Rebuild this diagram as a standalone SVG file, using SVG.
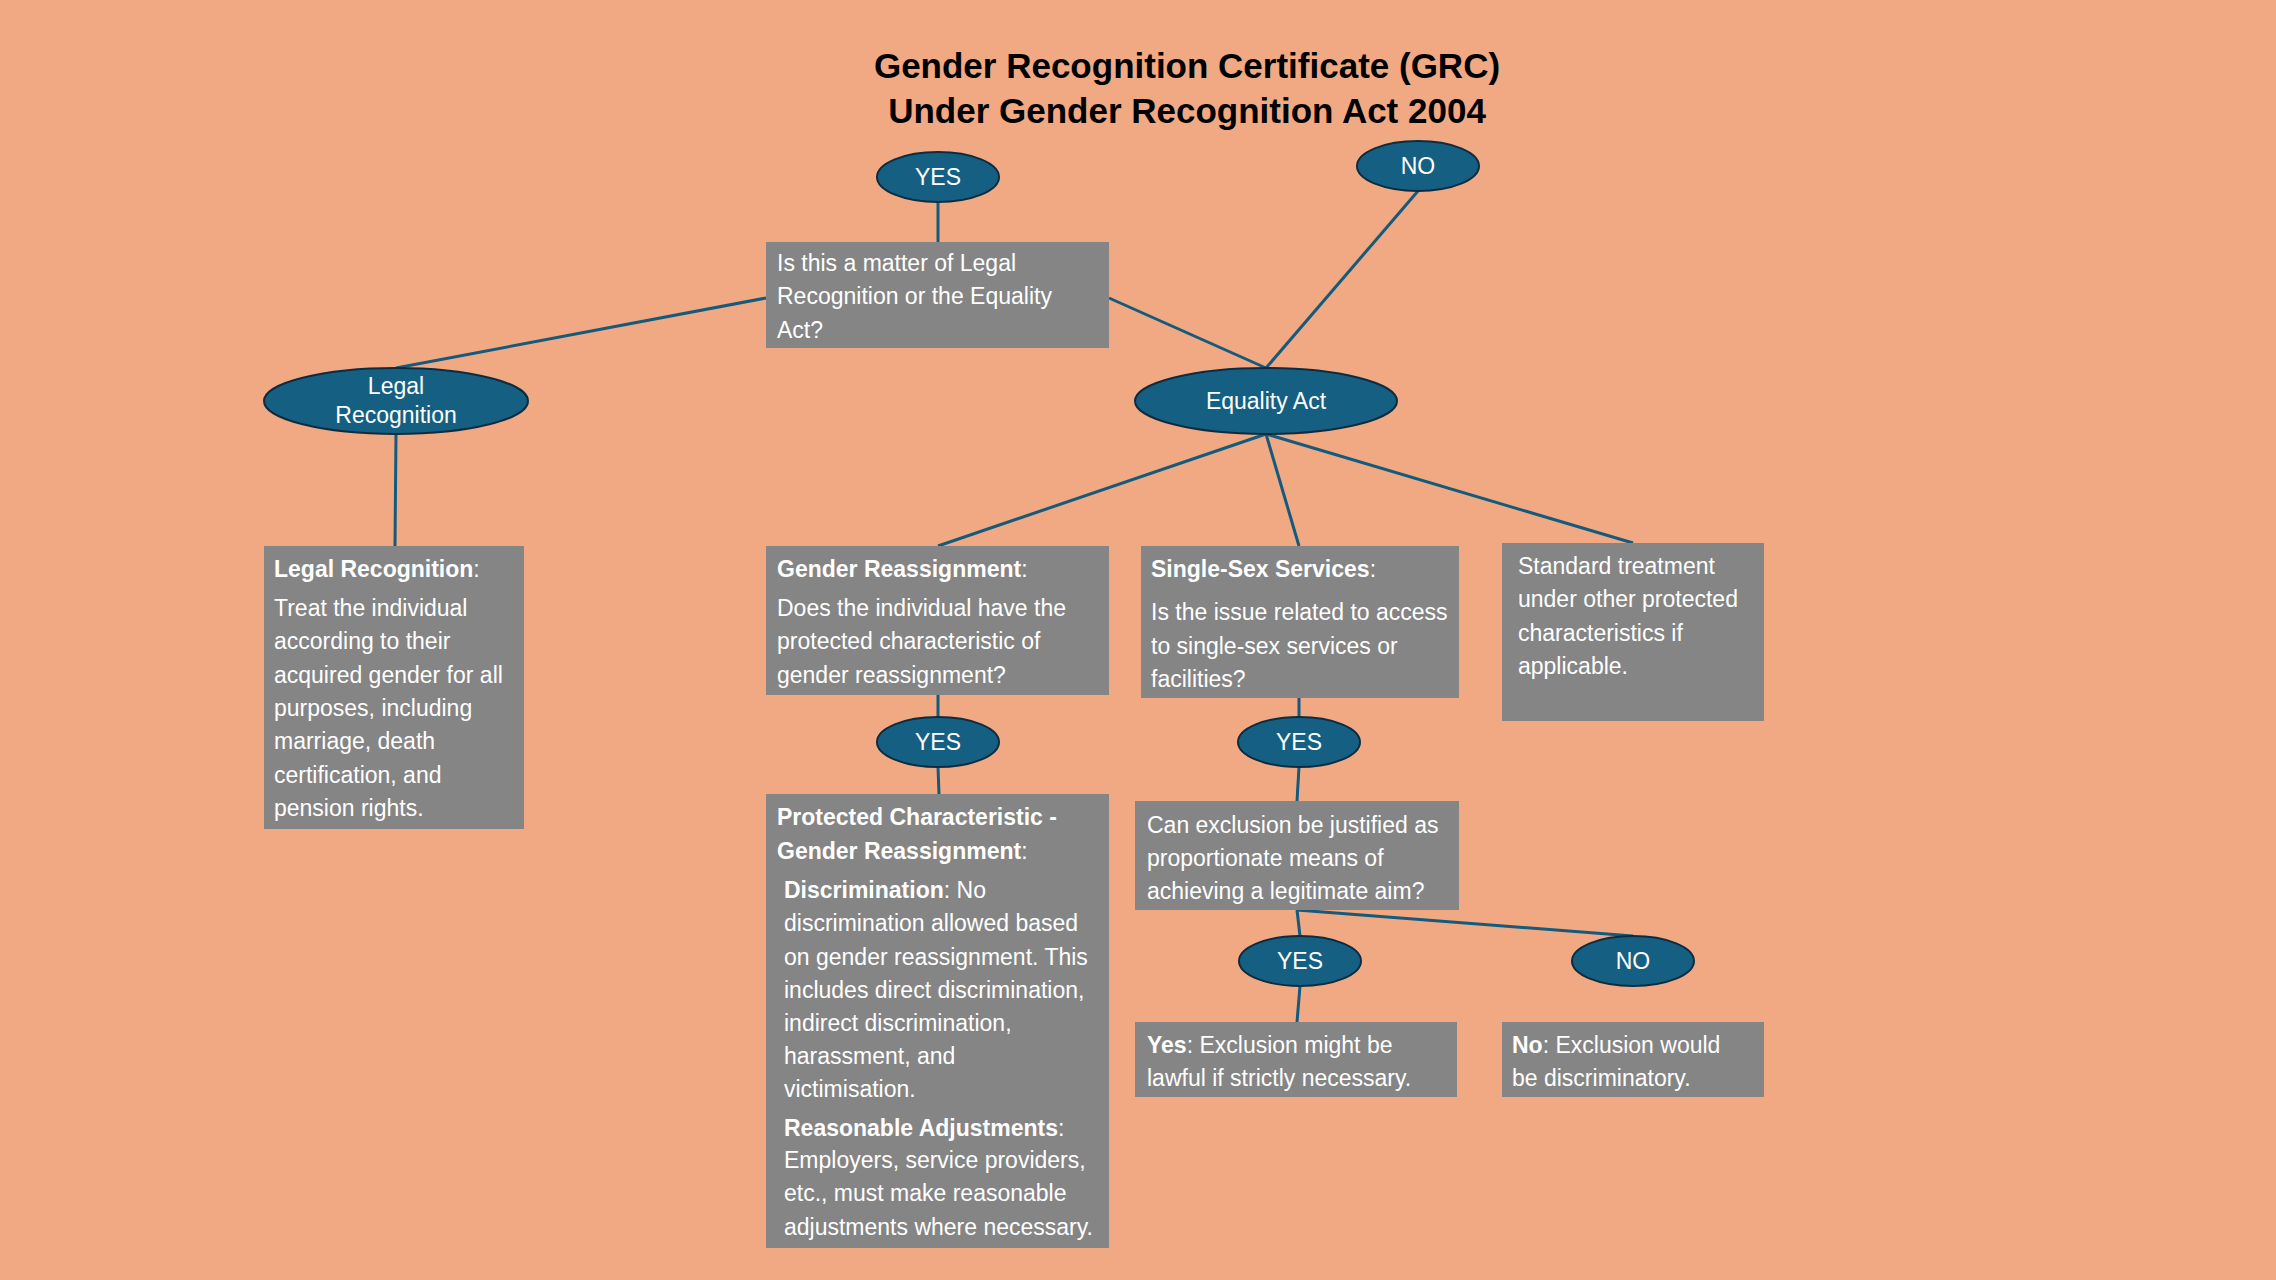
<svg xmlns="http://www.w3.org/2000/svg" width="2276" height="1280" viewBox="0 0 2276 1280">
<style>
.bg{fill:#F1A983}
.box{fill:#858585}
.ell{fill:#156082;stroke:#0D2C40;stroke-width:2}
.con{stroke:#145A7C;stroke-width:3;fill:none}
.t{font-family:"Liberation Sans",Arial,sans-serif;font-size:23px;fill:#FFFFFF}
.c{text-anchor:middle}
.b{font-weight:bold}
.title{font-family:"Liberation Sans",Arial,sans-serif;font-size:35px;font-weight:bold;fill:#000000;text-anchor:middle}
</style>
<rect class="bg" x="0" y="0" width="2276" height="1280"/>
<g id="title">
<text class="title" x="1187" y="78">Gender Recognition Certificate (GRC)</text>
<text class="title" x="1187" y="123">Under Gender Recognition Act 2004</text>
</g>
<g id="connectors">
<line class="con" x1="938" y1="202" x2="938" y2="242"/>
<line class="con" x1="766" y1="298" x2="396" y2="368"/>
<line class="con" x1="1109" y1="298" x2="1266" y2="368"/>
<line class="con" x1="1418" y1="191" x2="1266" y2="368"/>
<line class="con" x1="396" y1="434" x2="395" y2="546"/>
<line class="con" x1="1266" y1="434" x2="938" y2="546"/>
<line class="con" x1="1266" y1="434" x2="1299" y2="546"/>
<line class="con" x1="1266" y1="434" x2="1633" y2="543"/>
<line class="con" x1="938" y1="695" x2="938" y2="717"/>
<line class="con" x1="938" y1="767" x2="939" y2="794"/>
<line class="con" x1="1299" y1="698" x2="1299" y2="717"/>
<line class="con" x1="1299" y1="767" x2="1297" y2="801"/>
<line class="con" x1="1297" y1="910" x2="1300" y2="936"/>
<line class="con" x1="1297" y1="910" x2="1633" y2="936"/>
<line class="con" x1="1300" y1="986" x2="1297" y2="1022"/>
</g>
<g id="yes-top">
<ellipse class="ell" cx="938" cy="177" rx="61" ry="25"/>
<text class="t c" x="938" y="185">YES</text>
</g>
<g id="no-top">
<ellipse class="ell" cx="1418" cy="166" rx="61" ry="25"/>
<text class="t c" x="1418" y="174">NO</text>
</g>
<g id="question">
<rect class="box" x="766" y="242" width="343" height="106"/>
<text class="t" x="777" y="271">Is this a matter of Legal</text>
<text class="t" x="777" y="304">Recognition or the Equality</text>
<text class="t" x="777" y="338">Act?</text>
</g>
<g id="legal-recognition">
<ellipse class="ell" cx="396" cy="401" rx="132" ry="33"/>
<text class="t c" x="396" y="394">Legal</text>
<text class="t c" x="396" y="423">Recognition</text>
</g>
<g id="equality-act">
<ellipse class="ell" cx="1266" cy="401" rx="131" ry="33"/>
<text class="t c" x="1266" y="409">Equality Act</text>
</g>
<g id="legal-recognition-box">
<rect class="box" x="264" y="546" width="260" height="283"/>
<text class="t" x="274" y="577"><tspan class="b">Legal Recognition</tspan>:</text>
<text class="t" x="274" y="616">Treat the individual</text>
<text class="t" x="274" y="649">according to their</text>
<text class="t" x="274" y="683">acquired gender for all</text>
<text class="t" x="274" y="716">purposes, including</text>
<text class="t" x="274" y="749">marriage, death</text>
<text class="t" x="274" y="783">certification, and</text>
<text class="t" x="274" y="816">pension rights.</text>
</g>
<g id="gender-reassignment">
<rect class="box" x="766" y="546" width="343" height="149"/>
<text class="t" x="777" y="577"><tspan class="b">Gender Reassignment</tspan>:</text>
<text class="t" x="777" y="616">Does the individual have the</text>
<text class="t" x="777" y="649">protected characteristic of</text>
<text class="t" x="777" y="683">gender reassignment?</text>
</g>
<g id="single-sex-services">
<rect class="box" x="1141" y="546" width="318" height="152"/>
<text class="t" x="1151" y="577"><tspan class="b">Single-Sex Services</tspan>:</text>
<text class="t" x="1151" y="620">Is the issue related to access</text>
<text class="t" x="1151" y="654">to single-sex services or</text>
<text class="t" x="1151" y="687">facilities?</text>
</g>
<g id="standard-treatment">
<rect class="box" x="1502" y="543" width="262" height="178"/>
<text class="t" x="1518" y="574">Standard treatment</text>
<text class="t" x="1518" y="607">under other protected</text>
<text class="t" x="1518" y="641">characteristics if</text>
<text class="t" x="1518" y="674">applicable.</text>
</g>
<g id="yes-gr">
<ellipse class="ell" cx="938" cy="742" rx="61" ry="25"/>
<text class="t c" x="938" y="750">YES</text>
</g>
<g id="yes-sss">
<ellipse class="ell" cx="1299" cy="742" rx="61" ry="25"/>
<text class="t c" x="1299" y="750">YES</text>
</g>
<g id="protected-characteristic">
<rect class="box" x="766" y="794" width="343" height="454"/>
<text class="t b" x="777" y="825">Protected Characteristic -</text>
<text class="t" x="777" y="859"><tspan class="b">Gender Reassignment</tspan>:</text>
<text class="t" x="784" y="898"><tspan class="b">Discrimination</tspan>: No</text>
<text class="t" x="784" y="931">discrimination allowed based</text>
<text class="t" x="784" y="965">on gender reassignment. This</text>
<text class="t" x="784" y="998">includes direct discrimination,</text>
<text class="t" x="784" y="1031">indirect discrimination,</text>
<text class="t" x="784" y="1064">harassment, and</text>
<text class="t" x="784" y="1097">victimisation.</text>
<text class="t" x="784" y="1136"><tspan class="b">Reasonable Adjustments</tspan>:</text>
<text class="t" x="784" y="1168">Employers, service providers,</text>
<text class="t" x="784" y="1201">etc., must make reasonable</text>
<text class="t" x="784" y="1235">adjustments where necessary.</text>
</g>
<g id="exclusion-question">
<rect class="box" x="1135" y="801" width="324" height="109"/>
<text class="t" x="1147" y="833">Can exclusion be justified as</text>
<text class="t" x="1147" y="866">proportionate means of</text>
<text class="t" x="1147" y="899">achieving a legitimate aim?</text>
</g>
<g id="yes-lower">
<ellipse class="ell" cx="1300" cy="961" rx="61" ry="25"/>
<text class="t c" x="1300" y="969">YES</text>
</g>
<g id="no-lower">
<ellipse class="ell" cx="1633" cy="961" rx="61" ry="25"/>
<text class="t c" x="1633" y="969">NO</text>
</g>
<g id="yes-box">
<rect class="box" x="1135" y="1022" width="322" height="75"/>
<text class="t" x="1147" y="1053"><tspan class="b">Yes</tspan>: Exclusion might be</text>
<text class="t" x="1147" y="1086">lawful if strictly necessary.</text>
</g>
<g id="no-box">
<rect class="box" x="1502" y="1022" width="262" height="75"/>
<text class="t" x="1512" y="1053"><tspan class="b">No</tspan>: Exclusion would</text>
<text class="t" x="1512" y="1086">be discriminatory.</text>
</g>
</svg>
